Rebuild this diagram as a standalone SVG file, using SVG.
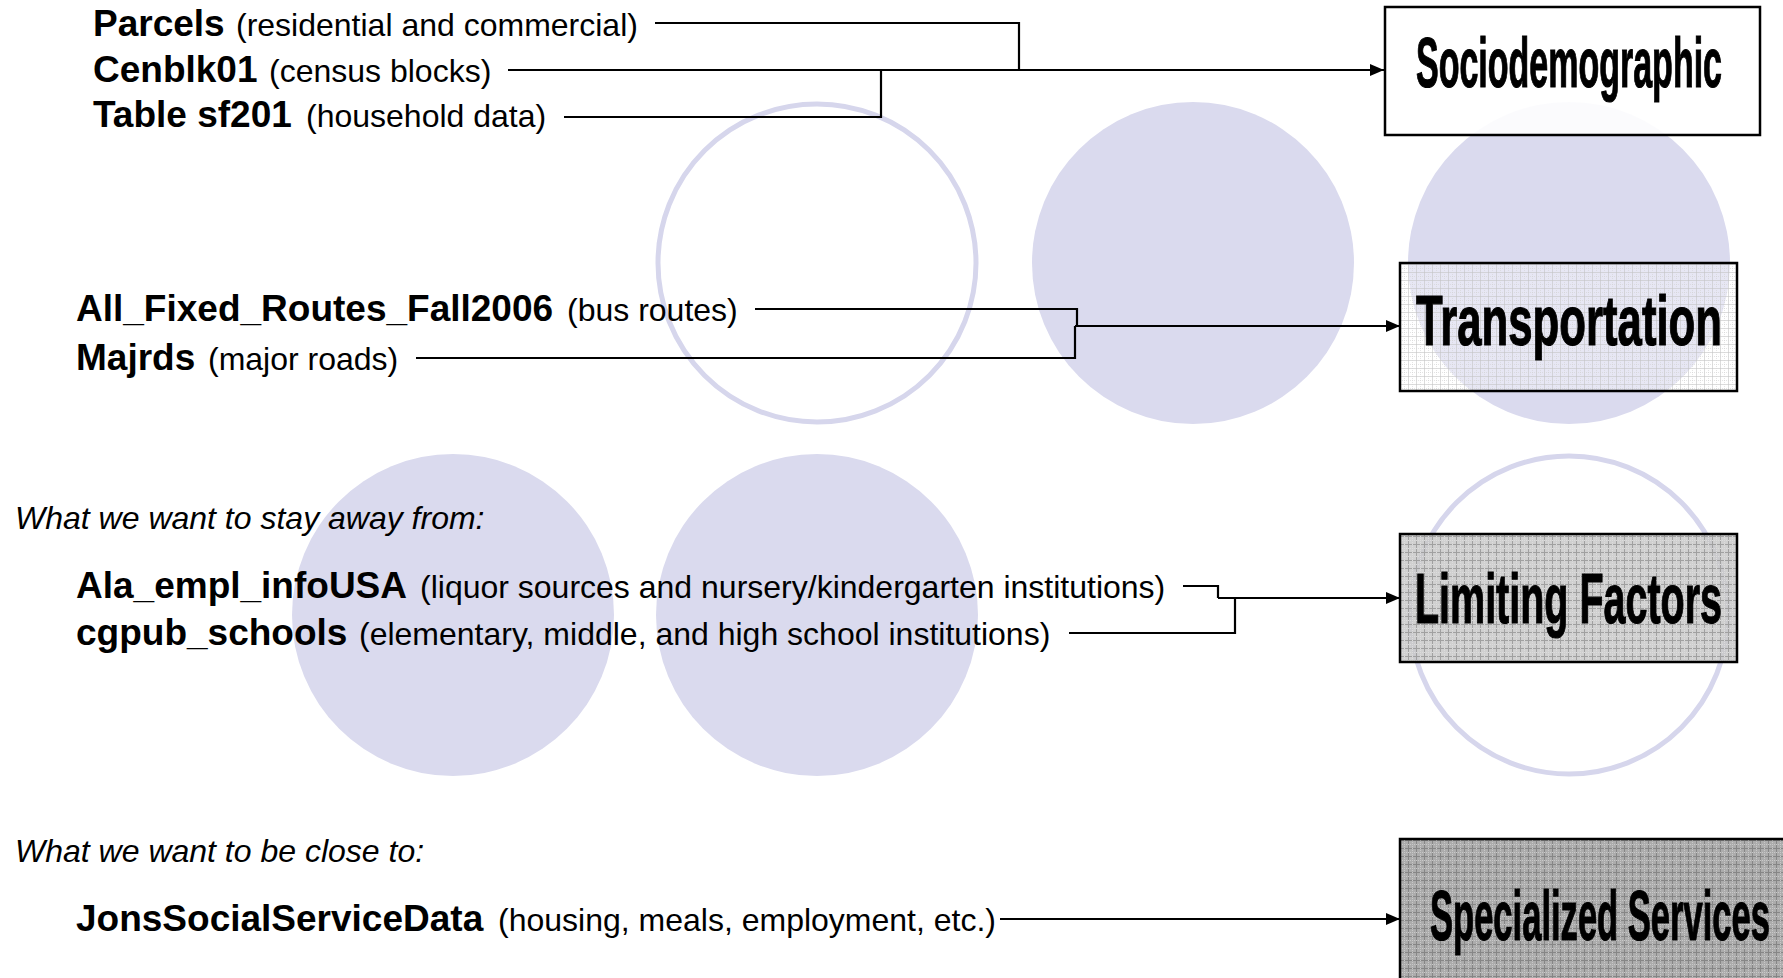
<svg xmlns="http://www.w3.org/2000/svg" width="1783" height="978" viewBox="0 0 1783 978">
<style>
.b{font-family:"Liberation Sans",Arial,sans-serif;font-weight:bold;font-size:37px;fill:#000}
.r{font-family:"Liberation Sans",Arial,sans-serif;font-weight:normal;font-size:32px;fill:#000}
.i{font-family:"Liberation Sans",Arial,sans-serif;font-style:italic;font-size:32px;fill:#000}
.bx{font-family:"Liberation Sans",Arial,sans-serif;font-weight:bold;font-size:71px;fill:#000;stroke:#000;stroke-width:1.2}
.cf{fill:#dadaee;stroke:none}
.co{fill:none;stroke:#d6d6ec;stroke-width:5}
.box{stroke:#000;stroke-width:2.5}
.ln{fill:none;stroke:#000;stroke-width:2.2}
</style>
<defs>
<marker id="ah" markerUnits="userSpaceOnUse" markerWidth="14" markerHeight="12" refX="14" refY="6" orient="auto">
<path d="M0,0 L14,6 L0,12 Z" fill="#000"/>
</marker>
<pattern id="pS" width="4" height="4" patternUnits="userSpaceOnUse">
<rect width="4" height="4" fill="#fff" fill-opacity="0.9"/>
</pattern>
<pattern id="pT" width="8" height="8" patternUnits="userSpaceOnUse">
<rect width="8" height="8" fill="#ffffff" fill-opacity="0.35"/>
<path d="M0,0.5H8M0.5,0V8" stroke="#c4c4c4" stroke-width="1" stroke-opacity="0.6"/>
<path d="M0,4.5H8M4.5,0V8" stroke="#d4d4d4" stroke-width="1" stroke-dasharray="1 1" stroke-opacity="0.6"/>
</pattern>
<pattern id="pL" width="8" height="8" patternUnits="userSpaceOnUse">
<rect width="8" height="8" fill="#c8c8c8" fill-opacity="0.85"/>
<path d="M0,0.5H8M0.5,0V8" stroke="#a0a0a0" stroke-width="1"/>
<path d="M0,4.5H8M4.5,0V8" stroke="#dcdcdc" stroke-width="1" stroke-dasharray="1 1"/>
</pattern>
<pattern id="pX" width="8" height="8" patternUnits="userSpaceOnUse">
<rect width="8" height="8" fill="#acacac"/>
<path d="M0,0.5H8M0.5,0V8" stroke="#868686" stroke-width="1"/>
<path d="M0,4.5H8M4.5,0V8" stroke="#c8c8c8" stroke-width="1" stroke-dasharray="1 1"/>
</pattern>
</defs>
<rect width="1783" height="978" fill="#fff"/>
<g id="background-circles">
<circle cx="817" cy="263" r="159" class="co"/>
<circle cx="1193" cy="263" r="161" class="cf"/>
<circle cx="1569" cy="263" r="161" class="cf"/>
<circle cx="453" cy="615" r="161" class="cf"/>
<circle cx="817" cy="615" r="161" class="cf"/>
<circle cx="1569" cy="615" r="159" class="co"/>
</g>
<g id="connectors">
<path class="ln" d="M655,23 H1019 V70"/>
<path class="ln" d="M508,70 H1384" marker-end="url(#ah)"/>
<path class="ln" d="M564,117 H881 V70"/>
<path class="ln" d="M755,309 H1077 V326"/>
<path class="ln" d="M416,358 H1075 V326"/>
<path class="ln" d="M1075,326 H1400" marker-end="url(#ah)"/>
<path class="ln" d="M1183,586 H1218 V598"/>
<path class="ln" d="M1069,633 H1235 V598"/>
<path class="ln" d="M1218,598 H1400" marker-end="url(#ah)"/>
<path class="ln" d="M1000,919 H1400" marker-end="url(#ah)"/>
</g>
<g id="src-parcels"><text y="36"><tspan class="b" x="93">Parcels</tspan><tspan class="r" x="236">(residential and commercial)</tspan></text></g>
<g id="src-cenblk01"><text y="82"><tspan class="b" x="93">Cenblk01</tspan><tspan class="r" x="269">(census blocks)</tspan></text></g>
<g id="src-sf201"><text y="127"><tspan class="b" x="93">Table sf201</tspan><tspan class="r" x="306">(household data)</tspan></text></g>
<g id="src-routes"><text y="321"><tspan class="b" x="76">All_Fixed_Routes_Fall2006</tspan><tspan class="r" x="567">(bus routes)</tspan></text></g>
<g id="src-majrds"><text y="370"><tspan class="b" x="76">Majrds</tspan><tspan class="r" x="208">(major roads)</tspan></text></g>
<g id="label-away"><text class="i" x="15" y="529">What we want to stay away from:</text></g>
<g id="src-ala"><text y="598"><tspan class="b" x="76">Ala_empl_infoUSA</tspan><tspan class="r" x="420">(liquor sources and nursery/kindergarten institutions)</tspan></text></g>
<g id="src-cgpub"><text y="645"><tspan class="b" x="76">cgpub_schools</tspan><tspan class="r" x="359">(elementary, middle, and high school institutions)</tspan></text></g>
<g id="label-close"><text class="i" x="15" y="862">What we want to be close to:</text></g>
<g id="src-jons"><text y="931"><tspan class="b" x="76">JonsSocialServiceData</tspan><tspan class="r" x="498">(housing, meals, employment, etc.)</tspan></text></g>
<g id="box-sociodemographic">
<rect class="box" x="1385" y="7" width="375" height="128" fill="url(#pS)"/>
<text class="bx" x="0" y="0" transform="translate(1416,87) scale(0.4785,1)" textLength="639.5" lengthAdjust="spacingAndGlyphs">Sociodemographic</text>
</g>
<g id="box-transportation">
<rect class="box" x="1400" y="263" width="337" height="128" fill="url(#pT)"/>
<text class="bx" x="0" y="0" transform="translate(1416,345) scale(0.6108,1)" textLength="501" lengthAdjust="spacingAndGlyphs">Transportation</text>
</g>
<g id="box-limiting">
<rect class="box" x="1400" y="534" width="337" height="128" fill="url(#pL)"/>
<text class="bx" x="0" y="0" transform="translate(1415,623) scale(0.5558,1)" textLength="552.3" lengthAdjust="spacingAndGlyphs">Limiting Factors</text>
</g>
<g id="box-specialized">
<rect class="box" x="1400" y="839" width="420" height="200" fill="url(#pX)"/>
<text class="bx" x="0" y="0" transform="translate(1430,940) scale(0.4867,1)" textLength="698.6" lengthAdjust="spacingAndGlyphs">Specialized Services</text>
</g>
</svg>
